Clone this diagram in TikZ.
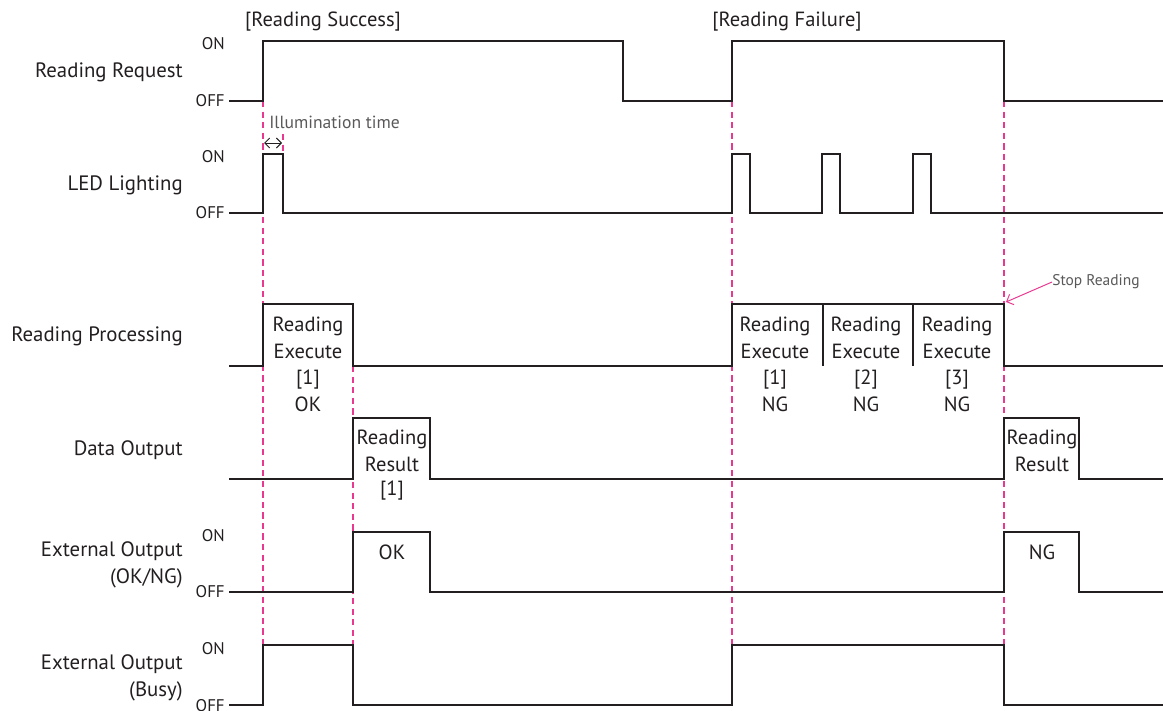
\documentclass[tikz,border=0pt]{standalone}
\usepackage{fontspec}
\setmainfont{PT Sans}
\usetikzlibrary{arrows.meta, positioning}
\definecolor{timingInk}{HTML}{231F20}
\definecolor{timingGrey}{HTML}{5A5858}
\definecolor{timingPink}{HTML}{E8388F}

\begin{document}
\begin{tikzpicture}[
        x=0.025cm, y=-0.025cm,
        wave/.style={
            draw=timingInk,
            line width=1.9pt,
            line join=miter
        },
        guide/.style={
            draw=timingPink,
            line width=0.9pt,
            dash pattern=on 4.5pt off 3pt
        },
        siglabel/.style={
            anchor=east,
            align=right,
            inner sep=0pt,
            font=\fontsize{14.8}{19.5}\selectfont,
            text=timingInk
        },
        levellabel/.style={
            anchor=east,
            inner sep=0pt,
            font=\fontsize{12}{13}\selectfont,
            text=timingInk
        },
        boxtext/.style={
            align=center,
            inner sep=0pt,
            font=\fontsize{14.6}{19.2}\selectfont,
            text=timingInk
        },
        notetext/.style={
            inner sep=0pt,
            font=\fontsize{11}{13}\selectfont,
            text=timingGrey
        }
    ]

    \useasboundingbox (0,0) rectangle (1163,710);

    % guide lines, drawn first so the waves lie on top
    \path[guide] (263,101) -- (263,705);
    \path[guide] (283,134) -- (283,154);
    \path[guide] (353,366) -- (353,645);
    \path[guide] (732,101) -- (732,645);
    \path[guide] (1004,101) -- (1004,645);

    % titles
    \node[boxtext] (success) at (323,22) {[Reading Success]};
    \node[boxtext] (failure) at (787,22) {[Reading Failure]};

    % signal names
    \node[siglabel] (req) at (183,72) {Reading Request};
    \node[siglabel] (led) at (183,185) {LED Lighting};
    \node[siglabel] (proc) at (183,336) {Reading Processing};
    \node[siglabel] (data) at (183,450) {Data Output};
    \node[siglabel] (extok) at (183,565) {External Output\\(OK/NG)};
    \node[siglabel] (busy) at (183,678) {External Output\\(Busy)};

    % ON / OFF levels
    \foreach \on/\off in {44/101, 157/213, 536/592, 649/706} {
        \node[levellabel] at (225,\on) {ON};
        \node[levellabel] at (225,\off) {OFF};
    }

    % Reading Request
    \path[wave] (229,101) -- (263,101) -- (263,41) -- (623,41) -- (623,101)
        -- (732,101) -- (732,41) -- (1004,41) -- (1004,101) -- (1163,101);

    % LED Lighting
    \path[wave] (229,213) -- (263,213) -- (263,154) -- (283,154) -- (283,213)
        -- (732,213) -- (732,154) -- (750,154) -- (750,213)
        -- (822,213) -- (822,154) -- (840,154) -- (840,213)
        -- (913,213) -- (913,154) -- (931,154) -- (931,213) -- (1163,213);
    \draw[{Straight Barb[length=3.5pt]}-{Straight Barb[length=3.5pt]}, line width=0.7pt, timingInk]
        (264,143) -- (282,143);
    \node[notetext, anchor=west, font=\fontsize{12.5}{14}\selectfont] (illum) at (269,122)
        {Illumination time};

    % Reading Processing
    \path[wave] (229,366) -- (263,366) -- (263,304) -- (353,304) -- (353,366)
        -- (732,366) -- (732,304) -- (1004,304) -- (1004,366) -- (1163,366);
    \path[wave] (823,304) -- (823,366);
    \path[wave] (913,304) -- (913,366);
    \node[boxtext] (exe0) at (308,338) {Reading\\Execute};
    \node[boxtext] (res0) at (308,391) {[1]\\OK};
    \foreach \x/\n in {775/1, 866/2, 957/3} {
        \node[boxtext] (exe\n) at (\x,338) {Reading\\Execute};
        \node[boxtext] (res\n) at (\x,391) {[\n]\\NG};
    }
    \node[notetext, anchor=west] (stop) at (1052,282) {Stop Reading};
    \draw[-{Straight Barb[length=4pt]}, line width=0.7pt, timingPink]
        (stop.west) -- (1006,302);

    % Data Output
    \path[wave] (229,479) -- (353,479) -- (353,418) -- (430,418) -- (430,479)
        -- (1004,479) -- (1004,418) -- (1079,418) -- (1079,479) -- (1163,479);
    \node[boxtext] (out0) at (392,451) {Reading\\Result};
    \node[boxtext] (out0n) at (392,491) {[1]};
    \node[boxtext] (out1) at (1042,451) {Reading\\Result};

    % External Output (OK/NG)
    \path[wave] (229,592) -- (353,592) -- (353,532) -- (430,532) -- (430,592)
        -- (1004,592) -- (1004,532) -- (1079,532) -- (1079,592) -- (1163,592);
    \node[boxtext] (okout) at (392,552) {OK};
    \node[boxtext] (ngout) at (1042,552) {NG};

    % External Output (Busy)
    \path[wave] (229,705) -- (263,705) -- (263,645) -- (353,645) -- (353,705)
        -- (732,705) -- (732,645) -- (1004,645) -- (1004,705) -- (1163,705);

\end{tikzpicture}
\end{document}
